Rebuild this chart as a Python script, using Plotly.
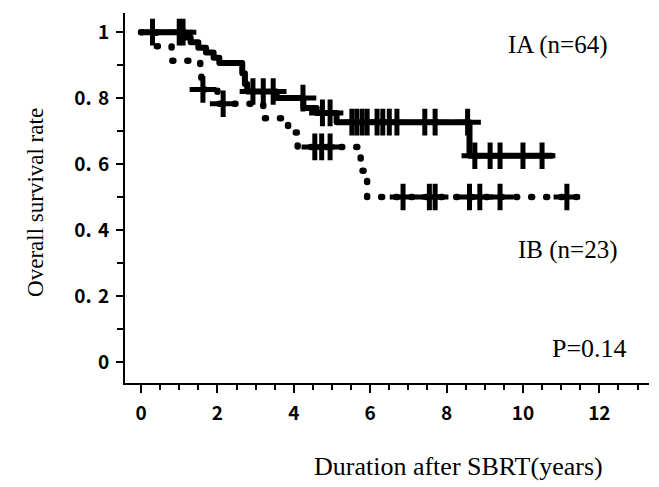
import plotly.graph_objects as go

# ---- data ----
ia_times = [0, 1.15, 1.3, 1.5, 1.7, 1.9, 2.05, 2.65, 2.72, 2.78, 3.55, 4.25, 4.6, 5.12, 8.6]
ia_surv = [1.0, 0.984, 0.969, 0.953, 0.938, 0.922, 0.906, 0.875, 0.843, 0.82, 0.80, 0.77, 0.755, 0.727, 0.625]
ia_end = 10.75
ia_censor = [0.3, 1.0, 1.1, 2.93, 3.2, 3.46, 4.24, 4.75, 4.95, 5.52, 5.65, 5.79, 5.92,
             6.18, 6.33, 6.5, 6.7, 7.43, 7.7, 8.55, 8.74, 9.14, 9.4, 10.0, 10.5]

ib_times = [0, 0.4, 0.8, 1.55, 1.58, 2.0, 3.2, 3.85, 4.1, 5.75, 5.92]
ib_surv = [1.0, 0.957, 0.913, 0.870, 0.826, 0.783, 0.739, 0.696, 0.652, 0.58, 0.50]
ib_end = 11.4
ib_censor = [1.62, 2.15, 4.55, 4.73, 4.95, 6.86, 7.55, 7.7, 8.6, 8.87, 9.4, 11.15]

x_ticks = [0, 2, 4, 6, 8, 10, 12]
y_ticks = [0, 0.2, 0.4, 0.6, 0.8, 1.0]
y_ticktext = ["0", "0.\u20042", "0.\u20044", "0.\u20046", "0.\u20048", "1"]


def surv_at(times, surv, t):
    v = surv[0]
    for ti, si in zip(times, surv):
        if ti <= t:
            v = si
    return v


serif = "Liberation Serif, Times New Roman, serif"
tickfont = dict(family="Noto Sans CJK JP, sans-serif", size=19, color="black", weight="bold")

fig = go.Figure()

# IB dotted curve
fig.add_trace(go.Scatter(
    x=ib_times + [ib_end], y=ib_surv + [ib_surv[-1]], mode="lines",
    line=dict(shape="hv", color="black", width=6.5, dash="1px,14px"),
    showlegend=False, hoverinfo="skip"))
fig.add_trace(go.Scatter(
    x=ib_censor, y=[surv_at(ib_times, ib_surv, t) for t in ib_censor], mode="markers",
    marker=dict(symbol="cross-thin", size=19, color="black", line=dict(width=5, color="black")),
    showlegend=False, hoverinfo="skip"))

# IA solid curve
fig.add_trace(go.Scatter(
    x=ia_times + [ia_end], y=ia_surv + [ia_surv[-1]], mode="lines",
    line=dict(shape="hv", color="black", width=6),
    showlegend=False, hoverinfo="skip"))
fig.add_trace(go.Scatter(
    x=ia_censor, y=[surv_at(ia_times, ia_surv, t) for t in ia_censor], mode="markers",
    marker=dict(symbol="cross-thin", size=19, color="black", line=dict(width=5, color="black")),
    showlegend=False, hoverinfo="skip"))

fig.update_xaxes(
    range=[-0.42, 13.3], tickvals=x_ticks, ticks="outside", ticklen=8, tickwidth=2,
    tickcolor="black", showline=True, linewidth=2, linecolor="black",
    showgrid=False, zeroline=False, tickfont=tickfont, ticklabelstandoff=4,
    minor=dict(dtick=0.5, ticks="outside", ticklen=5, tickwidth=1.5, tickcolor="black", showgrid=False))
fig.update_yaxes(
    range=[-0.064, 1.058], tickvals=y_ticks, ticktext=y_ticktext, ticks="outside", ticklen=7,
    tickwidth=2, tickcolor="black", showline=True, linewidth=2, linecolor="black",
    showgrid=False, zeroline=False, tickfont=tickfont, ticklabelstandoff=3,
    minor=dict(dtick=0.1, ticks="outside", ticklen=6, tickwidth=1.5, tickcolor="black", showgrid=False))

fig.add_annotation(x=9.55, y=0.96, text="IA (n=64)", showarrow=False, xanchor="left",
                   font=dict(family=serif, size=25, color="black"))
fig.add_annotation(x=9.82, y=0.34, text="IB (n=23)", showarrow=False, xanchor="left",
                   font=dict(family=serif, size=25, color="black"))
fig.add_annotation(x=10.7, y=0.04, text="P=0.14", showarrow=False, xanchor="left",
                   font=dict(family=serif, size=26, color="black"))
fig.add_annotation(xref="paper", yref="paper", x=0.637, y=-0.227, text="Duration after SBRT(years)",
                   showarrow=False, xanchor="center", yanchor="middle",
                   font=dict(family=serif, size=26, color="black"))
fig.add_annotation(xref="paper", yref="paper", x=-0.172, y=0.489, text="Overall survival rate",
                   showarrow=False, textangle=-90, xanchor="center", yanchor="middle",
                   font=dict(family=serif, size=23, color="black"))

fig.update_layout(
    width=659, height=487, margin=dict(l=125, r=10, t=13, b=104),
    plot_bgcolor="white", paper_bgcolor="white", showlegend=False)

post = ("function _rc(){document.querySelectorAll('path.js-line').forEach(function(p){"
        "p.style.strokeLinecap='round';p.style.strokeLinejoin='round';});}"
        "_rc();setTimeout(_rc,0);setTimeout(_rc,200);")
fig.write_html("out.html", post_script=post)
